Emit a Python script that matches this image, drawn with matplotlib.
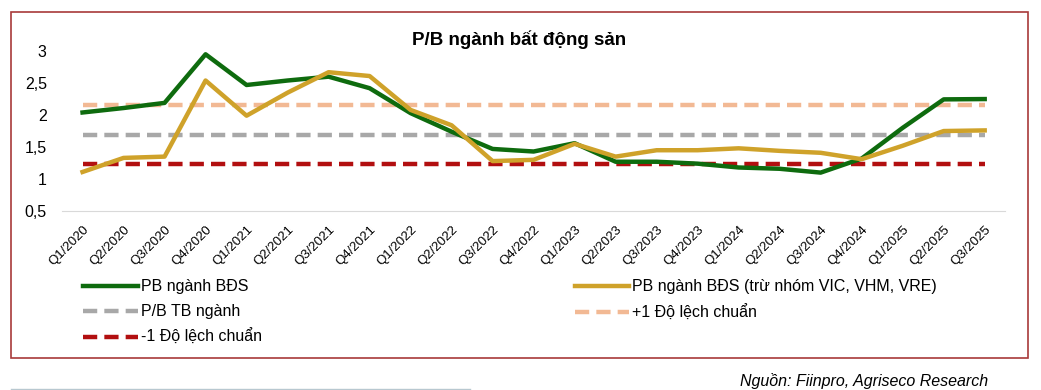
import matplotlib.pyplot as plt
from matplotlib.patches import Rectangle
from matplotlib.lines import Line2D
from matplotlib.ticker import FuncFormatter

plt.rcParams['font.family'] = ['Liberation Sans', 'DejaVu Sans']

quarters = ['Q1/2020', 'Q2/2020', 'Q3/2020', 'Q4/2020',
            'Q1/2021', 'Q2/2021', 'Q3/2021', 'Q4/2021',
            'Q1/2022', 'Q2/2022', 'Q3/2022', 'Q4/2022',
            'Q1/2023', 'Q2/2023', 'Q3/2023', 'Q4/2023',
            'Q1/2024', 'Q2/2024', 'Q3/2024', 'Q4/2024',
            'Q1/2025', 'Q2/2025', 'Q3/2025']
pb_sector = [2.04, 2.11, 2.19, 2.95, 2.47, 2.54, 2.60, 2.42,
             2.03, 1.74, 1.47, 1.43, 1.56, 1.27, 1.27, 1.24,
             1.18, 1.16, 1.10, 1.32, 1.80, 2.245, 2.25]
pb_ex_vin = [1.11, 1.33, 1.35, 2.54, 1.99, 2.35, 2.67, 2.61,
             2.08, 1.84, 1.28, 1.30, 1.55, 1.35, 1.45, 1.45,
             1.48, 1.44, 1.41, 1.31, 1.52, 1.75, 1.76]
pb_mean = 1.69
pb_plus_sd = 2.15
pb_minus_sd = 1.23

green = '#0e6b0e'
gold = '#cfa22a'
grey = '#a8a8a8'
peach = '#f2b994'
red = '#b20f10'

fig = plt.figure(figsize=(10.41, 3.9), dpi=100)
fig.patches.append(Rectangle((11 / 1041, 1 - 358 / 390), 1017 / 1041, 346 / 390,
                             transform=fig.transFigure, fill=False,
                             edgecolor='#a83a3a', linewidth=1.2))
fig.add_artist(Line2D([11 / 1041, 470 / 1041], [1 - 389 / 390] * 2,
                      color='#b8c8d0', linewidth=1, transform=fig.transFigure))

ax = fig.add_axes([0.0596, 0.459, 0.906, 0.41])
x = range(len(quarters))
n = len(quarters)
dash = (0, (3.2, 1.6))

ax.plot(x, [pb_plus_sd] * n, color=peach, lw=3.2, ls=dash, label='+1 Độ lệch chuẩn', zorder=2)
ax.plot(x, [pb_mean] * n, color=grey, lw=3.2, ls=dash, label='P/B TB ngành', zorder=2)
ax.plot(x, [pb_minus_sd] * n, color=red, lw=3.2, ls=dash, label='-1 Độ lệch chuẩn', zorder=2)
ax.plot(x, pb_sector, color=green, lw=3.2, label='PB ngành BĐS', zorder=3)
ax.plot(x, pb_ex_vin, color=gold, lw=3.2, label='PB ngành BĐS (trừ nhóm VIC, VHM, VRE)', zorder=4)

ax.set_xlim(-0.5, 22.5)
ax.set_ylim(0.5, 3)
ax.set_yticks([0.5, 1, 1.5, 2, 2.5, 3])
ax.yaxis.set_major_formatter(FuncFormatter(lambda v, p: ('%g' % v).replace('.', ',')))
ax.set_xticks(list(x))
ax.set_xticklabels(quarters, rotation=45, ha='right', rotation_mode='anchor', fontsize=9.5)
ax.tick_params(axis='y', labelsize=11.5, length=0, pad=11)
ax.tick_params(axis='x', length=0, pad=9)
for s in ['top', 'right', 'left']:
    ax.spines[s].set_visible(False)
ax.spines['bottom'].set_color('#d9d9d9')

fig.text(519 / 1041, 1 - 40 / 390, 'P/B ngành bất động sản', ha='center', va='center',
         fontsize=13.5, fontweight='bold')

handles, labels = ax.get_legend_handles_labels()
order = [3, 1, 2, 4, 0]
leg = fig.legend([handles[i] for i in order], [labels[i] for i in order],
                 ncol=2, loc='upper left', bbox_to_anchor=(0.074, 0.3),
                 frameon=False, fontsize=11.5, handlelength=3.4, handletextpad=0.2,
                 columnspacing=19.6, labelspacing=0.62, borderaxespad=0)

fig.text(988 / 1041, 1 - 381 / 390, 'Nguồn: Fiinpro, Agriseco Research',
         ha='right', va='center', fontsize=11.5, style='italic')

fig.savefig('out.png', dpi=100)
